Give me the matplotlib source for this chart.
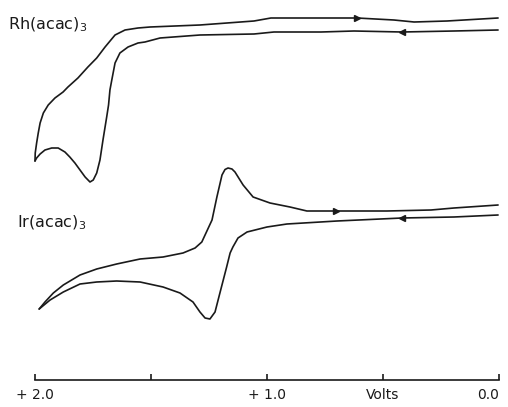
import matplotlib
matplotlib.use("Agg")
import matplotlib.pyplot as plt

# ---- data (potential in V, current in arbitrary units) ----
rh_fwd_v = [2.000, 1.999, 1.993, 1.986, 1.978, 1.964, 1.943, 1.914, 1.879, 1.858,
            1.815, 1.772, 1.734, 1.698, 1.655, 1.612, 1.556, 1.504, 1.289, 1.056,
            0.983, 0.612, 0.453, 0.366, 0.224, 0.004]
rh_fwd_i = [21.9, 22.7, 23.7, 24.7, 25.7, 26.7, 27.5, 28.2, 28.8, 29.3,
            30.2, 31.3, 32.2, 33.3, 34.5, 35.0, 35.2, 35.3, 35.5, 35.9,
            36.2, 36.2, 36.0, 35.8, 35.9, 36.2]

rh_rev_v = [0.004, 0.194, 0.418, 0.625, 0.767, 0.970, 1.056, 1.289, 1.461, 1.526,
            1.556, 1.599, 1.634, 1.655, 1.669, 1.677, 1.683, 1.691, 1.707, 1.720,
            1.734, 1.749, 1.763, 1.784, 1.806, 1.828, 1.850, 1.871, 1.900, 1.928,
            1.957, 1.978, 1.993, 2.000]
rh_rev_i = [35.0, 34.9, 34.8, 34.9, 34.8, 34.8, 34.6, 34.5, 34.2, 33.8,
            33.7, 33.3, 32.7, 31.7, 30.0, 29.0, 27.5, 26.3, 24.0, 22.0,
            20.7, 20.0, 19.8, 20.3, 21.0, 21.7, 22.3, 22.8, 23.2, 23.2,
            23.0, 22.6, 22.2, 21.9]

ir_fwd_v = [1.982, 1.957, 1.921, 1.878, 1.806, 1.734, 1.648, 1.547, 1.448, 1.362,
            1.310, 1.281, 1.263, 1.237, 1.216, 1.194, 1.181, 1.168, 1.151, 1.138,
            1.103, 1.060, 0.987, 0.901, 0.828, 0.703, 0.483, 0.293, 0.194, 0.004]
ir_fwd_i = [7.1, 7.8, 8.7, 9.5, 10.5, 11.1, 11.6, 12.1, 12.3, 12.7,
            13.2, 13.8, 14.7, 16.0, 18.3, 20.5, 21.05, 21.2, 21.1, 20.8,
            19.5, 18.3, 17.7, 17.3, 16.9, 16.9, 16.9, 17.0, 17.2, 17.5]

ir_rev_v = [0.004, 0.194, 0.418, 0.698, 0.914, 1.000, 1.086, 1.125, 1.147, 1.159,
            1.174, 1.203, 1.224, 1.246, 1.267, 1.289, 1.319, 1.375, 1.448, 1.547,
            1.648, 1.734, 1.806, 1.878, 1.935, 1.982]
ir_rev_i = [16.5, 16.3, 16.2, 15.9, 15.6, 15.3, 14.8, 14.2, 13.3, 12.7,
            11.3, 8.7, 6.8, 6.1, 6.2, 6.8, 7.8, 8.7, 9.3, 9.8,
            9.9, 9.8, 9.6, 8.8, 8.0, 7.1]

# scan-direction arrows: (V, I)
arrow_right_v = [0.612, 0.703]
arrow_right_i = [36.2, 16.9]
arrow_left_v = [0.418, 0.418]
arrow_left_i = [34.8, 16.2]

labels = ["Rh(acac)$_3$", "Ir(acac)$_3$"]
tick_pos = [2.0, 1.5, 1.0, 0.5, 0.0]
tick_labels = ["+ 2.0", "", "+ 1.0", "Volts", "0.0"]

# ---- figure ----
fig = plt.figure(figsize=(5.08, 4.07), dpi=100)
ax = fig.add_axes([0, 0, 1, 1])
col = "#1a1a1a"
lw = 1.2
for v, i in [(rh_fwd_v, rh_fwd_i), (rh_rev_v, rh_rev_i),
             (ir_fwd_v, ir_fwd_i), (ir_rev_v, ir_rev_i)]:
    ax.plot(v, i, color=col, lw=lw, solid_joinstyle="round", solid_capstyle="round")

ax.plot(arrow_right_v, arrow_right_i, ls="none", marker=">", ms=5, color=col)
ax.plot(arrow_left_v, arrow_left_i, ls="none", marker="<", ms=5, color=col)

ax.text(2.116, 35.5, labels[0], fontsize=11.5, va="center", ha="left", color=col)
ax.text(2.078, 15.7, labels[1], fontsize=11.5, va="center", ha="left", color=col)

ax.set_xlim(499 / 232, -9 / 232)
ax.set_ylim(-2.7, 38.0)
for s in ["top", "left", "right"]:
    ax.spines[s].set_visible(False)
ax.spines["bottom"].set_position(("data", 0))
ax.spines["bottom"].set_bounds(0, 2.0)
ax.spines["bottom"].set_linewidth(1.2)
ax.spines["bottom"].set_color(col)
ax.set_yticks([])
ax.set_xticks(tick_pos)
ax.set_xticklabels(tick_labels, fontsize=10, color=col)
ax.tick_params(axis="x", direction="in", length=4, width=1.2, color=col, pad=6)
ax.get_xticklabels()[-1].set_ha("right")

fig.savefig("out.png", dpi=100)
